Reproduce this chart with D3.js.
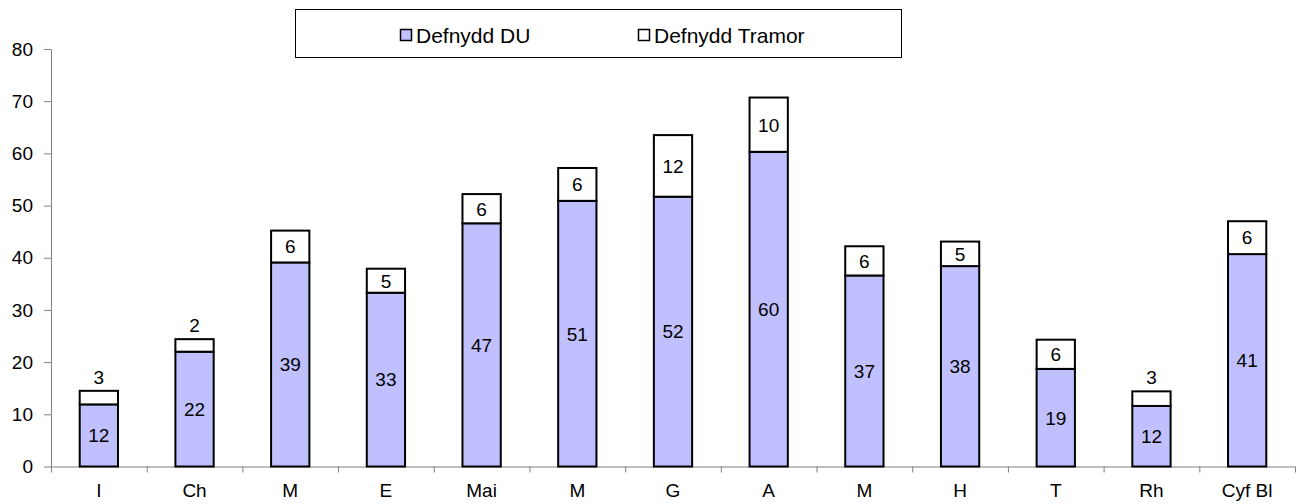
<!DOCTYPE html>
<html>
<head>
<meta charset="utf-8">
<script src="https://cdn.jsdelivr.net/npm/d3@7/dist/d3.min.js"></script>
<style>
  html, body { margin: 0; padding: 0; background: #fff; }
  svg { display: block; font-family: "Liberation Sans", Arial, sans-serif; }
</style>
</head>
<body>
<svg id="chart" width="1309" height="504"></svg>
<script>
// Categories along the bottom axis
const categories = ["I", "Ch", "M", "E", "Mai", "M", "G", "A", "M", "H", "T", "Rh", "Cyf Bl"];
// Series values
const ukUse      = [11.9, 22.0, 39.1, 33.3, 46.6, 50.9, 51.7, 60.3, 36.6, 38.4, 18.7, 11.6, 40.7];
const foreignUse = [2.6, 2.4, 6.1, 4.6, 5.6, 6.3, 11.8, 10.4, 5.6, 4.7, 5.6, 2.8, 6.3];
const seriesNames = ["Defnydd DU", "Defnydd Tramor"];
const seriesColors = ["#C0C0FF", "#FFFFFF"];
// Value axis ticks
const yTicks = [0, 10, 20, 30, 40, 50, 60, 70, 80];

const svg = d3.select("#chart");
const plot = { left: 51, right: 1295, top: 49, bottom: 466.5 };

const rows = categories.map((c, i) => ({ idx: i, uk: ukUse[i], foreign: foreignUse[i] }));
const stacked = d3.stack().keys(["uk", "foreign"])(rows);

const x = d3.scaleBand()
  .domain(d3.range(categories.length))
  .range([plot.left, plot.right])
  .paddingInner(0.6)
  .paddingOuter(0.3);

const y = d3.scaleLinear()
  .domain([0, 80])
  .range([plot.bottom, plot.top]);

// Category boundaries for the bottom axis ticks
const xEdges = d3.scaleLinear()
  .domain([0, categories.length])
  .range([plot.left, plot.right]);

// Y axis
const yAxis = svg.append("g")
  .attr("transform", `translate(${plot.left},0)`)
  .call(d3.axisLeft(y).tickValues(yTicks).tickSize(7).tickSizeOuter(0).tickPadding(11));
yAxis.select(".domain").attr("stroke", "#808080");
yAxis.selectAll(".tick line").attr("stroke", "#808080");
yAxis.selectAll(".tick text")
  .attr("fill", "#000")
  .style("font-size", "19px")
  .style("font-family", "'Liberation Sans', Arial, sans-serif");

// X axis with ticks between categories
const xAxis = svg.append("g")
  .attr("transform", `translate(0,${plot.bottom})`)
  .call(d3.axisBottom(xEdges).tickValues(d3.range(categories.length + 1)).tickSize(6).tickSizeOuter(0).tickFormat(""));
xAxis.select(".domain").attr("stroke", "#808080");
xAxis.selectAll(".tick line").attr("stroke", "#808080");

svg.append("g").selectAll("text")
  .data(categories)
  .join("text")
  .attr("x", (d, i) => x(i) + x.bandwidth() / 2)
  .attr("y", plot.bottom + 30)
  .attr("text-anchor", "middle")
  .style("font-size", "19px")
  .attr("fill", "#000")
  .text(d => d);

// Stacked bars
const layers = svg.append("g").selectAll("g")
  .data(stacked)
  .join("g")
  .attr("fill", (d, i) => seriesColors[i]);

layers.selectAll("rect")
  .data(d => d)
  .join("rect")
  .attr("x", d => x(d.data.idx))
  .attr("y", d => y(d[1]))
  .attr("width", x.bandwidth())
  .attr("height", d => y(d[0]) - y(d[1]))
  .attr("stroke", "#000")
  .attr("stroke-width", 2);

// Value labels
const fmt = d3.format(".0f");
stacked.forEach((layer, li) => {
  svg.append("g").selectAll("text")
    .data(layer)
    .join("text")
    .attr("x", d => x(d.data.idx) + x.bandwidth() / 2)
    .attr("y", d => {
      const top = y(d[1]), bot = y(d[0]);
      if (bot - top < 16) return top - 14;
      return (top + bot) / 2;
    })
    .attr("dy", "0.36em")
    .attr("text-anchor", "middle")
    .style("font-size", "19px")
    .attr("fill", "#000")
    .text(d => fmt(d[1] - d[0]));
});

// Legend
const legend = svg.append("g");
legend.append("rect")
  .attr("x", 295.5).attr("y", 9.5)
  .attr("width", 606).attr("height", 48)
  .attr("fill", "#fff")
  .attr("stroke", "#000")
  .attr("stroke-width", 1);

const legendX = [400, 638];
const items = legend.selectAll("g.item")
  .data(seriesNames)
  .join("g")
  .attr("class", "item")
  .attr("transform", (d, i) => `translate(${legendX[i]},29)`);
items.append("rect")
  .attr("x", 0.5).attr("y", 0.5)
  .attr("width", 11).attr("height", 11)
  .attr("fill", (d, i) => seriesColors[i])
  .attr("stroke", "#000")
  .attr("stroke-width", 1.5);
items.append("text")
  .attr("x", 16)
  .attr("y", 6.5)
  .attr("dy", "0.36em")
  .style("font-size", "21px")
  .attr("fill", "#000")
  .text(d => d);
</script>
</body>
</html>
